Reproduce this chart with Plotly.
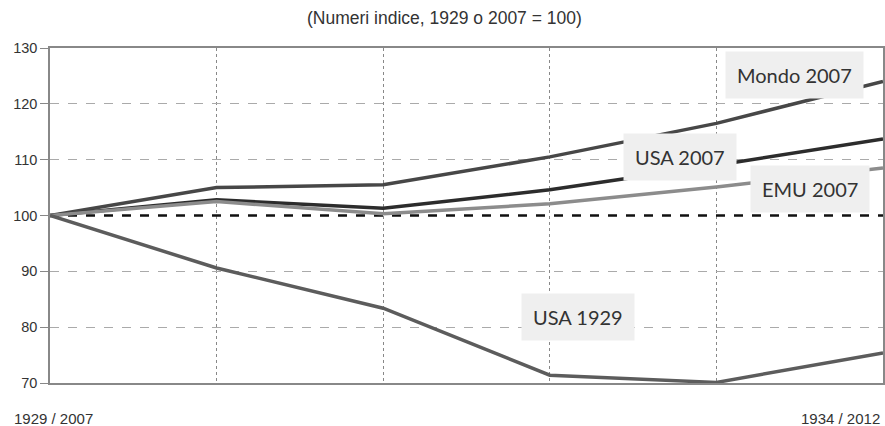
import plotly.graph_objects as go

# ---- data ----
periods = [0, 1, 2, 3, 4, 5]
mondo_2007 = [100, 105.0, 105.5, 110.5, 116.5, 124.0]
usa_2007 = [100, 102.8, 101.3, 104.6, 109.0, 113.7]
emu_2007 = [100, 102.5, 100.3, 102.1, 105.1, 108.5]
usa_1929 = [100, 90.6, 83.4, 71.4, 70.1, 75.4]
baseline = [100, 100, 100, 100, 100, 100]

series_names = ["Mondo 2007", "USA 2007", "EMU 2007", "USA 1929"]
label_x = [4.47, 3.78, 4.56, 3.17]
label_y = [125.1, 110.5, 104.75, 81.8]

y_ticks = [70, 80, 90, 100, 110, 120, 130]
title_text = "(Numeri indice, 1929 o 2007 = 100)"
start_label = "1929 / 2007"
end_label = "1934 / 2012"

# ---- figure ----
fig = go.Figure()

fig.add_trace(go.Scatter(x=periods, y=baseline, mode="lines",
                         line=dict(color="#111111", width=2.5, dash="dash"),
                         hoverinfo="skip", showlegend=False))

styles = [("#474747", 3.5), ("#2c2c2c", 3.5), ("#8c8c8c", 3.5), ("#5c5c5c", 3.5)]
for name, ys, (col, w) in zip(series_names, [mondo_2007, usa_2007, emu_2007, usa_1929], styles):
    fig.add_trace(go.Scatter(x=periods, y=ys, mode="lines", name=name,
                             line=dict(color=col, width=w), showlegend=False))

for name, lx, ly in zip(series_names, label_x, label_y):
    fig.add_annotation(x=lx, y=ly, xref="x", yref="y", text=name, showarrow=False,
                       font=dict(family="Lato", size=20, color="#333333"),
                       bgcolor="#efefef", borderpad=11)

fig.add_annotation(x=0.473, y=1.0, xref="paper", yref="paper", yshift=30,
                   text=title_text, showarrow=False,
                   font=dict(family="Liberation Sans", size=17.5, color="#333333"),
                   xanchor="center", yanchor="middle")
fig.add_annotation(x=-0.046, y=0, xref="paper", yref="paper", yshift=-35,
                   text=start_label, showarrow=False, xanchor="left", yanchor="middle",
                   font=dict(family="Liberation Sans", size=15, color="#333333"))
fig.add_annotation(x=0.999, y=0, xref="paper", yref="paper", yshift=-35,
                   text=end_label, showarrow=False, xanchor="right", yanchor="middle",
                   font=dict(family="Liberation Sans", size=15, color="#333333"))

fig.update_layout(
    template="none",
    width=885, height=426,
    margin=dict(l=50, r=2, t=48, b=43, autoexpand=False),
    plot_bgcolor="white", paper_bgcolor="white",
    showlegend=False,
)
fig.update_xaxes(range=[0, 5], tickvals=[1, 2, 3, 4], showticklabels=False,
                 automargin=False,
                 showgrid=True, gridcolor="#888888", gridwidth=1, griddash="dot",
                 showline=True, linecolor="#888888", linewidth=1.5, mirror=True,
                 zeroline=False, ticks="")
fig.update_yaxes(range=[70, 130], tickvals=y_ticks, automargin=False,
                 showgrid=True, gridcolor="#aaaaaa", gridwidth=1, griddash="dash",
                 showline=True, linecolor="#888888", linewidth=1.5, mirror=True,
                 zeroline=False, ticks="outside", ticklen=8, tickcolor="#888888",
                 tickfont=dict(family="Liberation Sans", size=14.5, color="#333333"))

fig.write_html("out.html",
               config={"displayModeBar": False},
               post_script="document.body.style.margin='0';document.body.style.overflow='hidden';")
